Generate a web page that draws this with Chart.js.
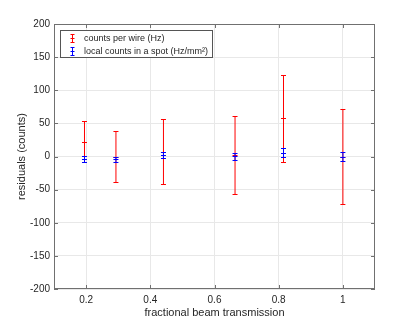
<!DOCTYPE html>
<html>
<head>
<meta charset="utf-8">
<script src="https://cdn.jsdelivr.net/npm/chart.js@4.4.0/dist/chart.umd.min.js"></script>
<style>
  html, body { margin: 0; padding: 0; background: #fff; }
  #wrap { width: 415px; height: 325px; }
</style>
</head>
<body>
<div id="wrap"><canvas id="residualChart"></canvas></div>
<script>
// beam transmission fractions
const transmission = [0.195, 0.293, 0.441, 0.664, 0.815, 1.0];
// counts per wire (Hz)
const wireResidual = [22.5, 0, 7.5, 2, 58, 0];
const wireError = [31.5, 38.8, 48.5, 59, 65.6, 72.3];
// local counts in a spot (Hz/mm^2)
const spotResidual = [-3.5, -4, 2, 0.5, 6, 0];
const spotError = [5, 4, 5, 5.5, 6.5, 7];

const xTicks = [0.2, 0.4, 0.6, 0.8, 1];
const yTicks = [-200, -150, -100, -50, 0, 50, 100, 150, 200];
const seriesLabels = ["counts per wire (Hz)", "local counts in a spot (Hz/mm\u00B2)"];

const textColor = "#262626";
const boxColor = "#707070";
const font = "Liberation Sans, Arial, Helvetica, sans-serif";

function toPoints(xs, ys) {
  return xs.map((x, i) => ({ x: x, y: ys[i] }));
}

const errorBars = {
  id: "errorBars",
  afterDatasetsDraw(chart) {
    const ctx = chart.ctx;
    const xs = chart.scales.x;
    const ys = chart.scales.y;
    const errs = [wireError, spotError];
    chart.data.datasets.forEach((ds, di) => {
      ctx.save();
      ctx.strokeStyle = ds.borderColor;
      ctx.lineWidth = 1;
      ds.data.forEach((p, i) => {
        const px = xs.getPixelForValue(p.x);
        const mid = Math.round(ys.getPixelForValue(p.y)) + 0.5;
        const top = Math.round(ys.getPixelForValue(p.y + errs[di][i])) + 0.5;
        const bot = Math.round(ys.getPixelForValue(p.y - errs[di][i])) + 0.5;
        ctx.beginPath();
        ctx.moveTo(px, top);
        ctx.lineTo(px, bot);
        ctx.moveTo(px - 2.5, top);
        ctx.lineTo(px + 2.5, top);
        ctx.moveTo(px - 2.5, bot);
        ctx.lineTo(px + 2.5, bot);
        ctx.moveTo(px - 2.5, mid);
        ctx.lineTo(px + 2.5, mid);
        ctx.stroke();
      });
      ctx.restore();
    });
  },
  afterDraw(chart) {
    const ctx = chart.ctx;
    const a = chart.chartArea;
    const xs = chart.scales.x;
    const ys = chart.scales.y;
    ctx.save();
    // box and inward ticks
    ctx.strokeStyle = boxColor;
    ctx.lineWidth = 1;
    ctx.strokeRect(a.left + 0.5, a.top + 0.5, a.right - a.left - 1, a.bottom - a.top - 1);
    ctx.beginPath();
    yTicks.forEach((v) => {
      const py = Math.round(ys.getPixelForValue(v)) + 0.5;
      ctx.moveTo(a.left, py);
      ctx.lineTo(a.left + 4, py);
      ctx.moveTo(a.right, py);
      ctx.lineTo(a.right - 4, py);
    });
    xTicks.forEach((v) => {
      const px = Math.round(xs.getPixelForValue(v)) + 0.5;
      ctx.moveTo(px, a.top);
      ctx.lineTo(px, a.top + 4);
      ctx.moveTo(px, a.bottom);
      ctx.lineTo(px, a.bottom - 4);
    });
    ctx.stroke();

    // legend box
    const lx = 60.5, ly = 30.5, lw = 152, lh = 27;
    ctx.fillStyle = "#fff";
    ctx.fillRect(lx, ly, lw, lh);
    ctx.strokeStyle = "#555";
    ctx.strokeRect(lx, ly, lw, lh);
    ctx.font = "9px " + font;
    ctx.textBaseline = "middle";
    chart.data.datasets.forEach((ds, i) => {
      const cy = Math.round(ly + 7 + i * 13.5) + 0.5;
      const ix = lx + 12;
      ctx.strokeStyle = ds.borderColor;
      ctx.beginPath();
      ctx.moveTo(ix, cy - 4);
      ctx.lineTo(ix, cy + 4);
      ctx.moveTo(ix - 2, cy - 4);
      ctx.lineTo(ix + 2, cy - 4);
      ctx.moveTo(ix - 2, cy + 4);
      ctx.lineTo(ix + 2, cy + 4);
      ctx.moveTo(ix - 2, cy);
      ctx.lineTo(ix + 2, cy);
      ctx.stroke();
      ctx.fillStyle = textColor;
      ctx.fillText(seriesLabels[i], lx + 23.5, cy);
    });
    ctx.restore();
  },
};

const ctx = document.getElementById("residualChart").getContext("2d");
new Chart(ctx, {
  type: "scatter",
  data: {
    datasets: [
      {
        label: seriesLabels[0],
        data: toPoints(transmission, wireResidual),
        borderColor: "#ff0000",
        backgroundColor: "#ff0000",
        pointRadius: 0,
        borderWidth: 1,
      },
      {
        label: seriesLabels[1],
        data: toPoints(transmission, spotResidual),
        borderColor: "#0000ff",
        backgroundColor: "#0000ff",
        pointRadius: 0,
        borderWidth: 1,
      },
    ],
  },
  options: {
    responsive: true,
    maintainAspectRatio: false,
    animation: false,
    layout: { padding: { top: 24, right: 40, left: 0, bottom: 0 } },
    plugins: {
      legend: { display: false },
      tooltip: { enabled: false },
    },
    scales: {
      x: {
        type: "linear",
        min: 0.1,
        max: 1.1,
        afterBuildTicks: (scale) => {
          scale.ticks = xTicks.map((v) => ({ value: v }));
        },
        afterFit: (scale) => {
          scale.height = 36;
        },
        grid: { color: "#e8e8e8", drawTicks: false },
        border: { display: false },
        ticks: {
          padding: 5,
          color: textColor,
          font: { family: font, size: 10 },
          callback: (v) => String(v),
        },
        title: {
          display: true,
          text: "fractional beam transmission",
          color: textColor,
          font: { family: font, size: 11 },
          padding: { top: 0, bottom: 5 },
        },
      },
      y: {
        min: -200,
        max: 200,
        afterBuildTicks: (scale) => {
          scale.ticks = yTicks.map((v) => ({ value: v }));
        },
        afterFit: (scale) => {
          scale.width = 54;
        },
        grid: { color: "#e8e8e8", drawTicks: false },
        border: { display: false },
        ticks: {
          padding: 4,
          color: textColor,
          font: { family: font, size: 10 },
        },
        title: {
          display: true,
          text: "residuals (counts)",
          color: textColor,
          font: { family: font, size: 11 },
          padding: { top: 15, bottom: 0 },
        },
      },
    },
  },
  plugins: [errorBars],
});
</script>
</body>
</html>
